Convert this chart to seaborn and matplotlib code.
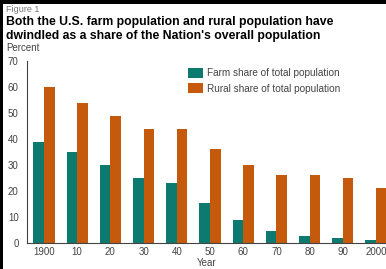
import numpy as np
import pandas as pd
import matplotlib
matplotlib.use("Agg")
import matplotlib.pyplot as plt
import seaborn as sns
from matplotlib.patches import Patch, Rectangle

years = ["1900", "10", "20", "30", "40", "50", "60", "70", "80", "90", "2000"]
farm = [39, 35, 30, 25, 23, 15.3, 8.7, 4.8, 2.7, 2.1, 1.0]
rural = [60, 54, 49, 44, 44, 36, 30, 26, 26, 25, 21]
series = ["Farm share of total population", "Rural share of total population"]
colors = ["#0c7a6e", "#c65a0c"]

df = pd.DataFrame({
    "year": years * 2,
    "value": farm + rural,
    "series": [series[0]] * len(years) + [series[1]] * len(years),
})

sns.set_style("white")
plt.rcParams["font.family"] = ["Liberation Sans", "DejaVu Sans"]

W, H = 386, 269
fig = plt.figure(figsize=(W / 100, H / 100), dpi=100)
fig.patch.set_facecolor("white")
ax = fig.add_axes([27 / W, 26 / H, 1 - 27 / W, 182 / H])

sns.barplot(data=df, x="year", y="value", hue="series", palette=colors,
            width=0.64, gap=0, saturation=1, linewidth=0, legend=False, ax=ax)

ax.set_ylim(0, 70)
ax.set_xlim(-0.51, 10.3)
ax.set_yticks(range(0, 71, 10))
ax.set_xlabel("")
ax.set_ylabel("")
sns.despine(ax=ax, top=True, right=True)
for s in ["left", "bottom"]:
    ax.spines[s].set_color("#444444")
    ax.spines[s].set_linewidth(0.8)
ax.tick_params(axis="y", direction="in", length=5, width=0.8, color="#444444",
               labelsize=7, labelcolor="#444444", pad=6)
ax.tick_params(axis="x", length=0, labelsize=7, labelcolor="#444444", pad=3)

handles = [Patch(facecolor=c, edgecolor="none") for c in colors]
ax.legend(handles, series, loc="upper left", bbox_to_anchor=(179 / W, 1 - 59 / H),
          bbox_transform=fig.transFigure, frameon=False, fontsize=7.2,
          handlelength=1.5, handleheight=1.2, handletextpad=0.4,
          labelspacing=0.45, labelcolor="#444444")

fig.text(6 / W, 1 - 10 / H, "Figure 1", fontsize=6.5, color="#777777", va="center")
fig.text(6 / W, 1 - 29 / H,
         "Both the U.S. farm population and rural population have\n"
         "dwindled as a share of the Nation's overall population",
         fontsize=8.8, fontweight="bold", color="black", va="center", linespacing=1.15)
fig.text(6 / W, 1 - 48 / H, "Percent", fontsize=7, color="#444444", va="center")
fig.text(207 / W, 1 - 263 / H, "Year", fontsize=7, color="#444444", va="center", ha="center")

# black edges of the cropped scan
fig.add_artist(Rectangle((0, 1 - 4 / H), 1, 4 / H, transform=fig.transFigure,
                         facecolor="black", edgecolor="none", zorder=10))
fig.add_artist(Rectangle((0, 0), 3 / W, 1, transform=fig.transFigure,
                         facecolor="black", edgecolor="none", zorder=10))

fig.savefig("out.png", dpi=100)
